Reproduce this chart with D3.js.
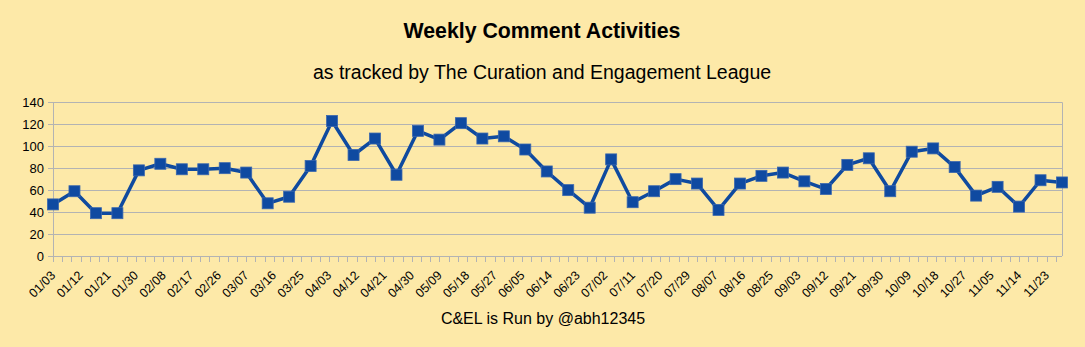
<!DOCTYPE html>
<html>
<head>
<meta charset="utf-8">
<script src="https://cdn.jsdelivr.net/npm/d3@7"></script>
<style>
html,body{margin:0;padding:0;background:#fde9a8;}
svg{display:block;}
text{font-family:"Liberation Sans",Arial,sans-serif;fill:#000;}
</style>
</head>
<body>
<svg id="chart" width="1085" height="347"></svg>
<script>
const titleText = "Weekly Comment Activities";
const subtitleText = "as tracked by The Curation and Engagement League";
const footerText = "C&EL is Run by @abh12345";
const startDate = "2019-01-03";
const endDate = "2019-11-28";
const yTicks = [0, 20, 40, 60, 80, 100, 120, 140];
const comments = [47, 59, 39, 39, 78, 84, 79, 79, 80, 76, 48, 54, 82, 123, 92, 107, 74, 114, 106, 121,
  107, 109, 97, 77, 60, 44, 88, 49, 59, 70, 66, 42, 66, 73, 76, 68, 61, 83, 89, 59,
  95, 98, 81, 55, 63, 45, 69, 67];

(function () {
const parse = d3.utcParse("%Y-%m-%d");
const t0 = parse(startDate), t1 = parse(endDate);
const data = comments.map((v, i) => ({date: d3.utcDay.offset(t0, i * 7), value: v}));

const svg = d3.select("#chart");
const pLeft = 53, pRight = 1062, pTop = 102.3, pBottom = 256;
const x = d3.scaleUtc().domain([t0, t1]).range([pLeft, pRight]);
const y = d3.scaleLinear().domain([0, 140]).range([pBottom, pTop]);
const grid = "#b3b3b3";

// titles
svg.append("text").attr("x", 542).attr("y", 38).attr("text-anchor", "middle")
  .style("font-weight", "bold").style("font-size", "21.3px").text(titleText);
svg.append("text").attr("x", 542).attr("y", 79).attr("text-anchor", "middle")
  .style("font-size", "19.5px").text(subtitleText);
svg.append("text").attr("x", 543).attr("y", 324).attr("text-anchor", "middle")
  .style("font-size", "16px").text(footerText);

// gridlines
svg.append("g").selectAll("line").data(yTicks).join("line")
  .attr("x1", pLeft - 5).attr("x2", pRight)
  .attr("y1", d => Math.round(y(d)) + 0.5).attr("y2", d => Math.round(y(d)) + 0.5)
  .attr("stroke", grid).attr("stroke-width", 1);
// y axis line + right border
svg.append("line").attr("x1", pLeft + 0.5).attr("x2", pLeft + 0.5).attr("y1", y(140)).attr("y2", pBottom + 6)
  .attr("stroke", grid);
svg.append("line").attr("x1", pRight + 0.5).attr("x2", pRight + 0.5).attr("y1", y(140)).attr("y2", pBottom)
  .attr("stroke", grid);

// y labels
const yAxis = d3.axisLeft(y).tickValues(yTicks).tickSize(0).tickPadding(9);
const gy = svg.append("g").attr("transform", `translate(${pLeft},0)`).call(yAxis);
gy.select(".domain").remove();
gy.selectAll("text").style("font-size", "13px").style("font-family", '"Liberation Sans",Arial,sans-serif');

// x ticks every 3 days, labels every 9 days
const minor = d3.utcDay.range(t0, d3.utcDay.offset(t1, 1)).filter((d, i) => i % 3 === 0);
const labels = minor.filter((d, i) => i % 3 === 0);
svg.append("g").selectAll("line").data(minor).join("line")
  .attr("x1", d => Math.round(x(d)) + 0.5).attr("x2", d => Math.round(x(d)) + 0.5)
  .attr("y1", pBottom).attr("y2", pBottom + 6).attr("stroke", grid);
const fmt = d3.utcFormat("%m/%d");
svg.append("g").selectAll("text").data(labels).join("text")
  .attr("transform", d => `translate(${x(d) - 3},${pBottom + 14}) rotate(-45)`)
  .attr("text-anchor", "end").attr("dy", "0.7em")
  .style("font-size", "12.5px").text(d => fmt(d));

// line
const line = d3.line().x(d => x(d.date)).y(d => y(d.value));
svg.append("path").datum(data).attr("d", line).attr("fill", "none")
  .attr("stroke", "#0f4a9f").attr("stroke-width", 3.5).attr("stroke-linejoin", "round");
// markers
const s = 11;
svg.append("g").selectAll("rect").data(data).join("rect")
  .attr("x", d => x(d.date) - s / 2).attr("y", d => y(d.value) - s / 2)
  .attr("width", s).attr("height", s)
  .attr("fill", "#0f4aa1").attr("stroke", "#3a67ae").attr("stroke-width", 0.8);
})();
</script>
</body>
</html>
